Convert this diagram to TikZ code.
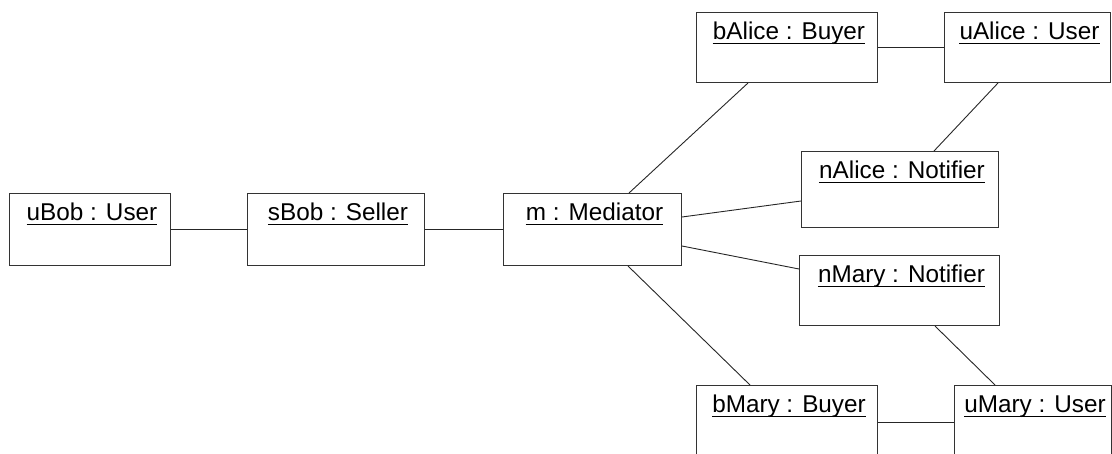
\documentclass[tikz,border=0pt]{standalone}
\usepackage{fontspec}
\setmainfont{Liberation Sans}
\usetikzlibrary{calc}
\tikzset{
  obj/.style={draw=black!80, line width=1pt, rectangle, inner sep=0pt, anchor=north west},
  objname/.style={inner sep=0pt, anchor=base, font=\fontsize{24.3}{28}\selectfont},
  uline/.style={line width=1.6pt},
  link/.style={draw=black!85, line width=0.9pt},
}
% an object box with its underlined name: #1 id, #2 left, #3 top, #4 width, #5 height, #6 text
\newcommand{\objbox}[6]{%
  \node[obj, minimum width=#4pt, minimum height=#5pt] (#1) at (#2,#3) {};
  \node[objname] (#1-t) at ($(#1.north)+(2,27.5)$) {#6};
  \draw[uline] ($(#1-t.base west)+(0,4)$) -- ($(#1-t.base east)+(0,4)$);
}
\begin{document}
\begin{tikzpicture}[x=1pt, y=-1pt]
\useasboundingbox (0,0) rectangle (1112,453);
\begin{scope}
\clip (0,0) rectangle (1112,453);
\objbox{uBob}{9}{193}{161}{72}{uBob : User}
\objbox{sBob}{247}{193}{177}{72}{sBob : Seller}
\objbox{m}{503}{193}{178}{72}{m : Mediator}
\objbox{bAlice}{696}{12}{181}{70}{bAlice : Buyer}
\objbox{uAlice}{944}{12}{166}{70}{uAlice : User}
\objbox{nAlice}{801}{151}{197}{76}{nAlice : Notifier}
\objbox{nMary}{799}{255}{200}{70}{nMary : Notifier}
\objbox{bMary}{696}{385}{181}{72}{bMary : Buyer}
\objbox{uMary}{954}{385}{157}{72}{uMary : User}

% links between the objects
\draw[link] (uBob) -- (sBob);
\draw[link] (sBob) -- (m);
\draw[link] ($(m.north west)+(126,0)$) -- ($(bAlice.south west)+(52,0)$);
\draw[link] (bAlice) -- (uAlice);
\draw[link] ($(uAlice.south west)+(54,0)$) -- ($(nAlice.north west)+(133,0)$);
\draw[link] ($(m.north east)+(0,24)$) -- ($(nAlice.north west)+(0,50)$);
\draw[link] ($(m.north east)+(0,53)$) -- ($(nMary.north west)+(0,14)$);
\draw[link] ($(m.south west)+(125,0)$) -- ($(bMary.north west)+(54,0)$);
\draw[link] ($(nMary.south west)+(136,0)$) -- ($(uMary.north west)+(41,0)$);
\draw[link] ($(bMary.north east)+(0,37)$) -- ($(uMary.north west)+(0,37)$);
\end{scope}
\end{tikzpicture}
\end{document}
